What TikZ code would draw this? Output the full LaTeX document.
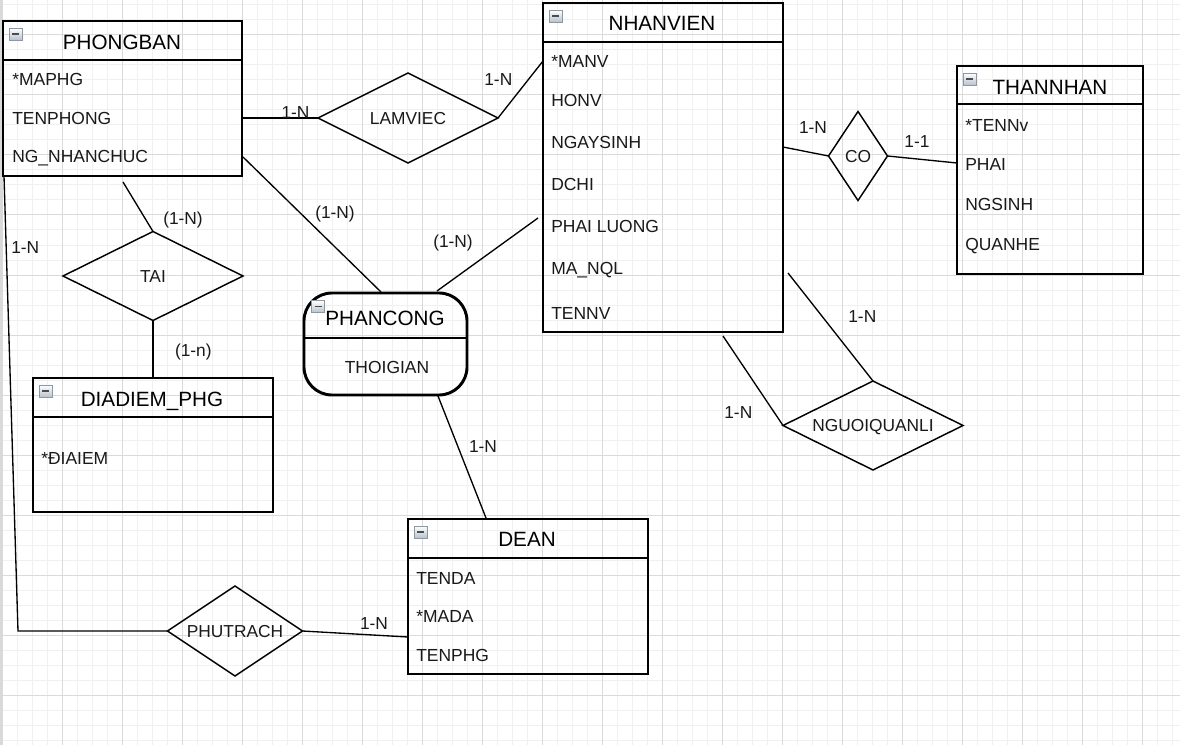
\documentclass[tikz,border=0pt]{standalone}
\usepackage{fontspec}
\setmainfont{Liberation Sans}
\usetikzlibrary{shapes.geometric}
\newcommand\pxu{0.75pt}
\definecolor{gridminor}{HTML}{F0F0F0}
\definecolor{gridmajor}{HTML}{DADADA}
\definecolor{icoborder}{HTML}{8A98A8}
\definecolor{icofill}{HTML}{B8C2CC}
\newcommand\minusbtn[1]{%
  \begin{scope}[shift={(#1.north west)}]
    \draw[draw=icoborder, top color=white, bottom color=icofill, line width=0.6pt] (6,7) rectangle (19,19);
    \draw[line width=1.2pt, draw=black!70] (9,13) -- (16,13);
  \end{scope}}
\begin{document}
\begin{tikzpicture}[x=0.75pt,y=-0.75pt,
  ent/.style={draw, line width=1.4pt, inner sep=0pt, outer sep=0pt},
  rel/.style={draw, diamond, line width=1.1pt, inner sep=0pt, outer sep=0pt,
    font=\fontsize{13}{15}\selectfont, text=black!90, text height=9.3pt, text depth=0pt},
  conn/.style={line width=1pt},
  ttl/.style={font=\fontsize{15.5}{18}\selectfont, anchor=base, inner sep=0pt},
  attr/.style={font=\fontsize{13.1}{15}\selectfont, anchor=base west, inner sep=0pt, text=black!90},
  card/.style={font=\fontsize{13}{15}\selectfont, inner sep=0pt, text height=9.3pt, text depth=0pt, text=black!90}
]
\useasboundingbox (0,0) rectangle (1180,745);
% background grid
\fill[white] (0,0) rectangle (1180,745);
\foreach \i in {0,...,78} \draw[gridminor, line width=0.75pt] ({2+15*\i},0) -- ({2+15*\i},745);
\foreach \j in {0,...,49} \draw[gridminor, line width=0.75pt] (0,{5+15*\j}) -- (1180,{5+15*\j});
\foreach \i in {0,...,19} \draw[gridmajor, line width=0.75pt] ({2+60*\i},0) -- ({2+60*\i},745);
\foreach \j in {0,...,11} \draw[gridmajor, line width=0.75pt] (0,{35+60*\j}) -- (1180,{35+60*\j});
\draw[black!15, line width=1.5pt] (1,0) -- (1,745);

% entities
\node[ent, minimum width=239*\pxu, minimum height=155*\pxu] (phongban) at (122.5,98.5) {};
\draw[line width=1.4pt] (phongban.west |- 0,60) -- (phongban.east |- 0,60);
\minusbtn{phongban}
\node[ttl] (pbt) at (122,49.5) {PHONGBAN};
\node[attr] (pb1) at (12,86) {*MAPHG};
\node[attr] (pb2) at (12,124.5) {TENPHONG};
\node[attr] (pb3) at (12,163) {NG\_NHANCHUC};

\node[ent, minimum width=240*\pxu, minimum height=329*\pxu] (nhanvien) at (663,167.5) {};
\draw[line width=1.4pt] (nhanvien.west |- 0,42) -- (nhanvien.east |- 0,42);
\minusbtn{nhanvien}
\node[ttl] (nvt) at (662,30.7) {NHANVIEN};
\node[attr] (nv1) at (551,67.7) {*MANV};
\node[attr] (nv2) at (551,106.7) {HONV};
\node[attr] (nv3) at (551,149) {NGAYSINH};
\node[attr] (nv4) at (551,191) {DCHI};
\node[attr] (nv5) at (551,233) {PHAI LUONG};
\node[attr] (nv6) at (551,274) {MA\_NQL};
\node[attr] (nv7) at (551,319) {TENNV};

\node[ent, minimum width=186*\pxu, minimum height=208*\pxu] (thannhan) at (1050,170) {};
\draw[line width=1.4pt] (thannhan.west |- 0,104) -- (thannhan.east |- 0,104);
\minusbtn{thannhan}
\node[ttl] (tnt) at (1050,94.3) {THANNHAN};
\node[attr] (tn1) at (965,131.7) {*TENNv};
\node[attr] (tn2) at (965,170.7) {PHAI};
\node[attr] (tn3) at (965,210) {NGSINH};
\node[attr] (tn4) at (965,250.7) {QUANHE};

\node[ent, minimum width=240*\pxu, minimum height=134*\pxu] (diadiem) at (153,445) {};
\draw[line width=1.4pt] (diadiem.west |- 0,417) -- (diadiem.east |- 0,417);
\minusbtn{diadiem}
\node[ttl] (ddt) at (152,406) {DIADIEM\_PHG};
\node[attr] (dd1) at (41,464.3) {*ĐIAIEM};

\node[ent, minimum width=240*\pxu, minimum height=155*\pxu] (dean) at (528,596.5) {};
\draw[line width=1.4pt] (dean.west |- 0,558) -- (dean.east |- 0,558);
\minusbtn{dean}
\node[ttl] (dat) at (527,546.7) {DEAN};
\node[attr] (da1) at (416,584) {TENDA};
\node[attr] (da2) at (416,622.7) {*MADA};
\node[attr] (da3) at (416,661.7) {TENPHG};

\node[draw, line width=2.2pt, rounded corners=28*\pxu, minimum width=163*\pxu, minimum height=102*\pxu, inner sep=0pt, outer sep=0pt] (phancong) at (385.5,344) {};
\draw[line width=2.2pt] (phancong.west |- 0,338) -- (phancong.east |- 0,338);
\node[ttl] (pct) at (385,325) {PHANCONG};
\node[attr, anchor=base] (pc1) at (387,373.3) {THOIGIAN};
\begin{scope}[shift={(phancong.north west)}]
  \draw[draw=icoborder, top color=white, bottom color=icofill, line width=0.6pt] (7.5,7.5) rectangle (20.5,19.5);
  \draw[line width=1.2pt, draw=black!70] (10.5,13.5) -- (17.5,13.5);
\end{scope}

% relationships
\node[rel, shape aspect=2, minimum width=180*\pxu, minimum height=90*\pxu] (lamviec) at (408,118) {LAMVIEC};
\node[rel, shape aspect=0.66, minimum width=59*\pxu, minimum height=89*\pxu] (co) at (858,156) {CO};
\node[rel, shape aspect=2, minimum width=180*\pxu, minimum height=89*\pxu] (tai) at (153,276) {TAI};
\node[rel, shape aspect=1.5, minimum width=135*\pxu, minimum height=90*\pxu] (phutrach) at (235,631) {PHUTRACH};
\node[rel, shape aspect=2, minimum width=180*\pxu, minimum height=89*\pxu] (nguoiql) at (873,425.5) {NGUOIQUANLI};

% connector end points
\coordinate (nv-lam) at (543,61);
\coordinate (nv-co) at (783,147);
\coordinate (tn-co) at (957,163);
\coordinate (pb-tai) at (123,182);
\coordinate (pb-pc) at (243,157);
\coordinate (pc-pb) at (381,292);
\coordinate (nv-pc) at (538,218);
\coordinate (pc-nv) at (437,291);
\coordinate (pc-de) at (438,396);
\coordinate (de-pc) at (486,518);
\coordinate (nv-nq1) at (723,336);
\coordinate (nv-nq2) at (788,273);
\coordinate (de-pt) at (408,637);
\coordinate (pb-left) at (4,176);
\coordinate (bend) at (18,631);

% connectors
\draw[conn] (phongban.east |- lamviec.west) -- (lamviec.west);
\draw[conn] (lamviec.east) -- (nv-lam);
\draw[conn] (nv-co) -- (co.west);
\draw[conn] (co.east) -- (tn-co);
\draw[conn] (pb-tai) -- (tai.north);
\draw[conn] (tai.south) -- (tai.south |- diadiem.north);
\draw[conn] (pb-left) -- (bend) -- (phutrach.west);
\draw[conn] (phutrach.east) -- (de-pt);
\draw[conn] (pb-pc) -- (pc-pb);
\draw[conn] (nv-pc) -- (pc-nv);
\draw[conn] (pc-de) -- (de-pc);
\draw[conn] (nv-nq1) -- (nguoiql.west);
\draw[conn] (nv-nq2) -- (nguoiql.north);

% cardinalities
\node[card] (c1) at (295.5,112) {1-N};
\node[card] (c2) at (498.3,79.5) {1-N};
\node[card] (c3) at (813,127) {1-N};
\node[card] (c4) at (917,141.3) {1-1};
\node[card] (c5) at (183,218) {(1-N)};
\node[card] (c6) at (193.3,350) {(1-n)};
\node[card] (c7) at (25.3,247) {1-N};
\node[card] (c8) at (862.3,316) {1-N};
\node[card] (c9) at (738.3,412.5) {1-N};
\node[card] (c10) at (374,622.8) {1-N};
\node[card] (c11) at (335,212) {(1-N)};
\node[card] (c12) at (453,241) {(1-N)};
\node[card] (c13) at (483,446) {1-N};
\end{tikzpicture}
\end{document}
